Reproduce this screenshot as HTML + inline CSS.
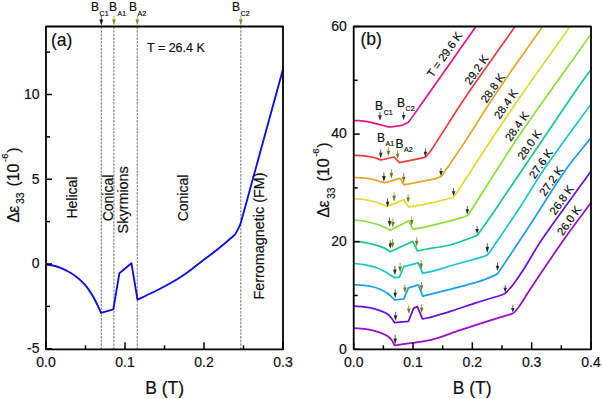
<!DOCTYPE html>
<html><head><meta charset="utf-8"><style>
html,body{margin:0;padding:0;background:#fff;}
svg{display:block;}
text{font-family:"Liberation Sans", sans-serif;stroke:#111;}
text,tspan{stroke-width:0.2px;}
</style></head><body>
<svg width="602" height="399" viewBox="0 0 602 399">
<rect width="602" height="399" fill="#fff"/>
<line x1="101.3" y1="26.5" x2="101.3" y2="349.3" stroke="#8a8a8a" stroke-width="1.15" stroke-dasharray="2.6,1"/>
<line x1="113.9" y1="26.5" x2="113.9" y2="349.3" stroke="#8a8a8a" stroke-width="1.15" stroke-dasharray="2.6,1"/>
<line x1="137.3" y1="26.5" x2="137.3" y2="349.3" stroke="#8a8a8a" stroke-width="1.15" stroke-dasharray="2.6,1"/>
<line x1="240.8" y1="26.5" x2="240.8" y2="349.3" stroke="#8a8a8a" stroke-width="1.15" stroke-dasharray="2.6,1"/>
<path d="M46.00,264.40 C48.33,264.77 50.71,264.97 53.00,265.50 C55.31,266.03 57.57,266.80 59.80,267.60 C61.57,268.23 63.31,268.98 65.00,269.80 C67.01,270.78 69.00,271.83 70.90,273.00 C72.67,274.09 74.36,275.32 76.00,276.60 C78.03,278.19 80.04,279.83 81.90,281.60 C83.54,283.16 85.11,284.82 86.50,286.60 C88.28,288.88 89.88,291.33 91.40,293.80 C93.04,296.46 94.59,299.20 96.00,302.00 C97.79,305.57 99.33,309.27 101.00,312.90 L113.30,309.30 L119.40,273.20 L131.40,263.20 L137.50,299.60 C140.77,298.07 144.05,296.56 147.30,295.00 C151.08,293.19 154.87,291.41 158.60,289.50 C162.37,287.57 166.12,285.59 169.80,283.50 C173.62,281.33 177.43,279.11 181.10,276.70 C184.83,274.25 188.41,271.56 192.00,268.90 C195.15,266.56 198.18,264.08 201.30,261.70 C205.05,258.84 208.88,256.09 212.60,253.20 C216.38,250.26 220.12,247.26 223.80,244.20 C227.05,241.50 230.20,238.69 233.41,235.93 L233.41,235.93 Q235.30,234.30 236.47,232.09 L238.52,228.19 L238.52,228.19 Q240.20,225.00 241.26,221.14 L283.00,69.30" fill="none" stroke="#0c0ce8" stroke-width="1.85" stroke-linejoin="round"/>
<rect x="46" y="26.5" width="237" height="322.8" fill="none" stroke="#000" stroke-width="1.8" stroke-linejoin="round"/>
<line x1="46.0" y1="349.3" x2="46.0" y2="342.3" stroke="#000" stroke-width="1.5"/>
<text x="46.0" y="367.4" font-size="14" text-anchor="middle" fill="#111" >0.0</text>
<line x1="125.00000000000001" y1="349.3" x2="125.00000000000001" y2="342.3" stroke="#000" stroke-width="1.5"/>
<text x="125.0" y="367.4" font-size="14" text-anchor="middle" fill="#111" >0.1</text>
<line x1="204.00000000000003" y1="349.3" x2="204.00000000000003" y2="342.3" stroke="#000" stroke-width="1.5"/>
<text x="204.0" y="367.4" font-size="14" text-anchor="middle" fill="#111" >0.2</text>
<line x1="283.00000000000006" y1="349.3" x2="283.00000000000006" y2="342.3" stroke="#000" stroke-width="1.5"/>
<text x="283.0" y="367.4" font-size="14" text-anchor="middle" fill="#111" >0.3</text>
<line x1="85.5" y1="349.3" x2="85.5" y2="345.3" stroke="#000" stroke-width="1.5"/>
<line x1="164.50000000000003" y1="349.3" x2="164.50000000000003" y2="345.3" stroke="#000" stroke-width="1.5"/>
<line x1="243.5" y1="349.3" x2="243.5" y2="345.3" stroke="#000" stroke-width="1.5"/>
<line x1="46" y1="348.75" x2="52" y2="348.75" stroke="#000" stroke-width="1.5"/>
<text x="39.5" y="353.05" font-size="14" text-anchor="end" fill="#111" >-5</text>
<line x1="46" y1="264.0" x2="52" y2="264.0" stroke="#000" stroke-width="1.5"/>
<text x="39.5" y="268.3" font-size="14" text-anchor="end" fill="#111" >0</text>
<line x1="46" y1="179.25" x2="52" y2="179.25" stroke="#000" stroke-width="1.5"/>
<text x="39.5" y="183.55" font-size="14" text-anchor="end" fill="#111" >5</text>
<line x1="46" y1="94.5" x2="52" y2="94.5" stroke="#000" stroke-width="1.5"/>
<text x="39.5" y="98.8" font-size="14" text-anchor="end" fill="#111" >10</text>
<line x1="46" y1="306.375" x2="50" y2="306.375" stroke="#000" stroke-width="1.5"/>
<line x1="46" y1="221.625" x2="50" y2="221.625" stroke="#000" stroke-width="1.5"/>
<line x1="46" y1="136.875" x2="50" y2="136.875" stroke="#000" stroke-width="1.5"/>
<line x1="46" y1="52.125" x2="50" y2="52.125" stroke="#000" stroke-width="1.5"/>
<text x="164.6" y="393.7" font-size="17.5" text-anchor="middle" fill="#111" >B (T)</text>
<text x="51" y="45.6" font-size="17.5" text-anchor="start" fill="#111" >(a)</text>
<text x="147" y="51.5" font-size="12.5" text-anchor="start" fill="#111" >T = 26.4 K</text>
<text transform="translate(77,197.6) rotate(-90)" font-size="14" text-anchor="middle" fill="#111">Helical</text>
<text transform="translate(113,198) rotate(-90)" font-size="14" text-anchor="middle" fill="#111">Conical</text>
<text transform="translate(127.5,199.8) rotate(-90)" font-size="14.4" text-anchor="middle" fill="#111">Skyrmions</text>
<text transform="translate(188,198) rotate(-90)" font-size="14" text-anchor="middle" fill="#111">Conical</text>
<text transform="translate(263.5,236) rotate(-90)" font-size="14.4" text-anchor="middle" fill="#111">Ferromagnetic (FM)</text>
<g transform="translate(18.6,222.3) rotate(-90)" fill="#111"><text x="-0.5" y="0" font-size="16">Δ</text><text x="9.66" y="0" font-size="16">ε</text><text x="18.2" y="5.6" font-size="10.4">33</text><text x="35.7" y="0" font-size="16">(10</text><text x="60.4" y="-10.6" font-size="9.5">-6</text><text x="69.5" y="0" font-size="16">)</text></g>
<text x="91" y="10.8" font-size="12" fill="#111">B<tspan font-size="7" dx="0.6" dy="5.2">C1</tspan></text>
<text x="109" y="10.8" font-size="12" fill="#111">B<tspan font-size="7" dx="0.6" dy="5.2">A1</tspan></text>
<text x="129" y="10.8" font-size="12" fill="#111">B<tspan font-size="7" dx="0.6" dy="5.2">A2</tspan></text>
<text x="232" y="10.8" font-size="12" fill="#111">B<tspan font-size="7" dx="0.6" dy="5.2">C2</tspan></text>
<line x1="101.3" y1="16" x2="101.3" y2="20.11" stroke="#111" stroke-width="0.9" opacity="0.8"/>
<path d="M99.5,19.61 L103.1,19.61 L101.3,25.5 Z" fill="#111"/>
<line x1="113.9" y1="16" x2="113.9" y2="20.11" stroke="#8c8c14" stroke-width="0.9" opacity="0.8"/>
<path d="M112.10000000000001,19.61 L115.7,19.61 L113.9,25.5 Z" fill="#8c8c14"/>
<line x1="137.3" y1="16" x2="137.3" y2="20.11" stroke="#8c8c14" stroke-width="0.9" opacity="0.8"/>
<path d="M135.5,19.61 L139.10000000000002,19.61 L137.3,25.5 Z" fill="#8c8c14"/>
<line x1="240.8" y1="16" x2="240.8" y2="20.11" stroke="#8c8c14" stroke-width="0.9" opacity="0.8"/>
<path d="M239.0,19.61 L242.60000000000002,19.61 L240.8,25.5 Z" fill="#8c8c14"/>
<defs><clipPath id="cb"><rect x="353.7" y="26.5" width="237.3" height="322.8"/></clipPath></defs>
<g clip-path="url(#cb)">
<path d="M354.00,120.50 C355.73,120.57 357.48,120.52 359.20,120.70 C362.81,121.08 366.43,121.52 370.00,122.20 C373.27,122.82 376.47,123.78 379.70,124.60 C382.51,125.31 385.28,126.17 388.10,126.80 C388.88,126.97 389.70,126.93 390.50,127.00 L400.63,125.53 L400.63,125.53 Q403.60,125.10 405.94,123.57 C406.89,122.95 408.11,122.59 408.80,121.70 C414.03,114.97 418.75,107.71 423.70,100.70 C441.19,75.91 458.70,51.15 476.10,26.30 C480.80,19.58 485.37,12.77 490.00,6.00" fill="none" stroke="#e6148c" stroke-width="1.75" stroke-linejoin="round"/>
<path d="M354.00,155.30 C357.33,155.50 360.69,155.53 364.00,155.90 C367.25,156.26 370.53,156.73 373.70,157.50 C376.16,158.10 378.50,159.17 380.90,160.00 L394.10,157.00 L399.40,162.60 L422.76,157.89 L422.76,157.89 Q425.70,157.30 427.51,154.91 C429.01,152.94 430.64,151.07 432.00,149.00 C442.84,132.50 453.02,115.54 464.10,99.20 C480.75,74.64 498.19,50.62 515.20,26.30 C520.16,19.22 525.07,12.10 530.00,5.00" fill="none" stroke="#f03c3c" stroke-width="1.75" stroke-linejoin="round"/>
<path d="M354.00,177.50 C356.53,177.60 359.08,177.58 361.60,177.80 C364.84,178.08 368.11,178.37 371.30,179.00 C374.15,179.57 376.90,180.59 379.70,181.40 C381.30,181.86 382.90,182.33 384.50,182.80 L400.10,178.30 L403.90,184.80 C413.27,183.00 422.66,181.31 432.00,179.40 C434.22,178.95 436.39,178.28 438.58,177.72 L438.58,177.72 Q441.00,177.10 442.40,175.03 C450.30,163.35 458.37,151.79 466.10,140.00 C474.94,126.51 483.21,112.65 492.10,99.20 C501.04,85.68 510.36,72.41 519.60,59.10 C527.23,48.11 535.14,37.33 542.70,26.30 C547.27,19.63 551.57,12.77 556.00,6.00" fill="none" stroke="#e4a82c" stroke-width="1.75" stroke-linejoin="round"/>
<path d="M354.00,198.60 C357.33,198.90 360.69,199.01 364.00,199.50 C367.26,199.98 370.53,200.62 373.70,201.50 C376.56,202.29 379.31,203.48 382.10,204.50 C383.77,205.11 385.43,205.77 387.10,206.40 L403.90,199.80 L408.40,206.80 C416.27,205.47 424.20,204.44 432.00,202.80 C438.59,201.41 445.05,199.42 451.58,197.73 L451.58,197.73 Q454.00,197.10 455.36,195.00 C467.27,176.67 479.02,158.22 491.10,140.00 C502.23,123.22 513.51,106.54 525.00,90.00 C539.84,68.64 555.10,47.55 570.10,26.30 C575.10,19.22 580.03,12.10 585.00,5.00" fill="none" stroke="#e4da30" stroke-width="1.75" stroke-linejoin="round"/>
<path d="M354.00,220.20 C357.33,220.47 360.72,220.44 364.00,221.00 C368.08,221.70 372.13,222.80 376.10,224.00 C378.96,224.87 381.76,226.00 384.50,227.20 C386.49,228.07 388.37,229.20 390.30,230.20 L408.80,220.80 L412.90,229.40 C419.27,228.03 425.66,226.78 432.00,225.30 C439.36,223.58 446.69,221.73 454.00,219.80 C457.79,218.80 461.53,217.60 465.30,216.50 L465.30,216.50 Q467.70,215.80 469.05,213.69 C484.76,189.13 500.08,164.30 516.20,140.00 C527.43,123.07 539.37,106.60 551.10,90.00 C564.24,71.40 577.63,52.98 590.80,34.40 C593.93,29.98 596.93,25.47 600.00,21.00" fill="none" stroke="#90e03c" stroke-width="1.75" stroke-linejoin="round"/>
<path d="M354.00,241.50 C357.33,241.77 360.71,241.76 364.00,242.30 C368.08,242.96 372.12,243.97 376.10,245.10 C378.96,245.91 381.83,246.84 384.50,248.10 C386.56,249.07 388.37,250.57 390.30,251.80 L412.90,241.30 L417.40,250.80 C422.27,249.93 427.13,249.07 432.00,248.20 C438.00,247.13 444.14,246.60 450.00,245.00 C458.38,242.71 466.49,239.34 474.74,236.51 L474.74,236.51 Q477.10,235.70 478.53,233.65 C484.06,225.77 489.69,217.96 495.10,210.00 C522.24,170.08 549.00,129.88 576.20,90.00 C580.90,83.11 585.92,76.46 590.80,69.70 C593.86,65.46 596.93,61.23 600.00,57.00" fill="none" stroke="#14cc8c" stroke-width="1.75" stroke-linejoin="round"/>
<path d="M354.00,263.40 C357.33,263.80 360.70,263.99 364.00,264.60 C368.07,265.36 372.20,266.15 376.10,267.50 C379.44,268.65 382.59,270.41 385.70,272.10 C387.79,273.24 389.65,274.79 391.70,276.00 C392.75,276.62 393.90,277.07 395.00,277.60 L399.40,277.10 L403.90,266.60 L418.20,262.80 L422.70,273.30 C425.80,272.67 428.95,272.22 432.00,271.40 C438.05,269.78 443.98,267.73 450.00,266.00 C459.98,263.13 470.02,260.46 480.00,257.60 C481.79,257.09 483.55,256.45 485.32,255.87 L485.32,255.87 Q487.70,255.10 489.10,253.03 C498.80,238.69 508.70,224.48 518.20,210.00 C527.04,196.53 534.98,182.47 544.10,169.20 C559.18,147.27 575.19,125.96 590.80,104.40 C593.82,100.23 596.93,96.13 600.00,92.00" fill="none" stroke="#18c8cc" stroke-width="1.75" stroke-linejoin="round"/>
<path d="M354.00,284.80 C357.33,285.00 360.69,285.03 364.00,285.40 C367.25,285.76 370.55,286.16 373.70,287.00 C376.58,287.76 379.40,288.93 382.10,290.20 C384.20,291.19 386.22,292.44 388.10,293.80 C389.62,294.90 390.90,296.33 392.30,297.60 C393.17,298.39 394.03,299.20 394.90,300.00 L403.90,298.80 L408.40,287.80 L418.20,284.80 L422.70,296.10 C425.80,295.33 428.90,294.56 432.00,293.80 C438.00,292.33 444.03,290.98 450.00,289.40 C460.03,286.75 470.11,284.19 480.00,281.10 C485.03,279.53 489.85,277.30 494.77,275.40 L494.77,275.40 Q497.10,274.50 498.48,272.42 C508.99,256.61 519.60,240.88 530.00,225.00 C542.14,206.47 553.41,187.33 566.10,169.20 C573.68,158.36 582.63,148.51 590.80,138.10 C593.93,134.11 596.93,130.03 600.00,126.00" fill="none" stroke="#1e9ef0" stroke-width="1.75" stroke-linejoin="round"/>
<path d="M354.00,306.20 C357.33,306.43 360.69,306.50 364.00,306.90 C367.25,307.30 370.52,307.81 373.70,308.60 C376.56,309.31 379.38,310.28 382.10,311.40 C384.18,312.25 386.34,313.16 388.10,314.50 C389.74,315.76 390.99,317.57 392.30,319.20 C393.19,320.30 393.90,321.53 394.70,322.70 L408.40,321.30 L413.70,308.10 L417.40,306.60 L422.40,318.90 C425.60,318.20 428.84,317.67 432.00,316.80 C438.91,314.90 445.77,312.77 452.60,310.60 C460.17,308.20 467.64,305.51 475.20,303.10 C484.24,300.22 493.34,297.52 502.41,294.73 L502.41,294.73 Q504.80,294.00 506.46,292.13 C508.57,289.75 510.88,287.53 512.80,285.00 C516.46,280.16 519.92,275.12 523.20,270.00 C529.69,259.86 535.28,249.12 542.10,239.20 C557.82,216.32 574.54,194.12 590.80,171.60 C593.84,167.38 596.93,163.20 600.00,159.00" fill="none" stroke="#6a10e6" stroke-width="1.75" stroke-linejoin="round"/>
<path d="M354.00,328.10 C357.33,328.37 360.69,328.46 364.00,328.90 C367.26,329.33 370.52,329.89 373.70,330.70 C376.55,331.43 379.37,332.40 382.10,333.50 C384.17,334.33 386.30,335.23 388.10,336.50 C389.60,337.56 390.92,339.01 392.00,340.50 C393.09,342.01 393.73,343.83 394.60,345.50 C407.07,343.53 419.75,342.46 432.00,339.60 C441.59,337.36 450.72,333.29 460.10,330.20 C470.12,326.89 480.14,323.57 490.20,320.40 C497.14,318.21 504.14,316.21 511.11,314.12 L511.11,314.12 Q513.50,313.40 515.06,311.45 C516.71,309.40 518.52,307.47 520.00,305.30 C523.50,300.15 526.54,294.68 530.00,289.50 C541.24,272.65 552.44,255.76 564.10,239.20 C572.71,226.96 581.86,215.10 590.80,203.10 C593.83,199.04 596.93,195.03 600.00,191.00" fill="none" stroke="#9a0ccc" stroke-width="1.75" stroke-linejoin="round"/>
</g>
<rect x="353.7" y="26.5" width="237.3" height="322.8" fill="none" stroke="#000" stroke-width="1.8" stroke-linejoin="round"/>
<line x1="353.7" y1="349.3" x2="353.7" y2="342.3" stroke="#000" stroke-width="1.5"/>
<text x="353.7" y="367.4" font-size="14" text-anchor="middle" fill="#111" >0.0</text>
<line x1="413.025" y1="349.3" x2="413.025" y2="342.3" stroke="#000" stroke-width="1.5"/>
<text x="413.02" y="367.4" font-size="14" text-anchor="middle" fill="#111" >0.1</text>
<line x1="472.35" y1="349.3" x2="472.35" y2="342.3" stroke="#000" stroke-width="1.5"/>
<text x="472.35" y="367.4" font-size="14" text-anchor="middle" fill="#111" >0.2</text>
<line x1="531.675" y1="349.3" x2="531.675" y2="342.3" stroke="#000" stroke-width="1.5"/>
<text x="531.67" y="367.4" font-size="14" text-anchor="middle" fill="#111" >0.3</text>
<line x1="591.0" y1="349.3" x2="591.0" y2="342.3" stroke="#000" stroke-width="1.5"/>
<text x="591.0" y="367.4" font-size="14" text-anchor="middle" fill="#111" >0.4</text>
<line x1="383.3625" y1="349.3" x2="383.3625" y2="345.3" stroke="#000" stroke-width="1.5"/>
<line x1="442.6875" y1="349.3" x2="442.6875" y2="345.3" stroke="#000" stroke-width="1.5"/>
<line x1="502.0125" y1="349.3" x2="502.0125" y2="345.3" stroke="#000" stroke-width="1.5"/>
<line x1="561.3375" y1="349.3" x2="561.3375" y2="345.3" stroke="#000" stroke-width="1.5"/>
<line x1="353.7" y1="349.3" x2="359.7" y2="349.3" stroke="#000" stroke-width="1.5"/>
<text x="346.8" y="353.6" font-size="14" text-anchor="end" fill="#111" >0</text>
<line x1="353.7" y1="241.70000000000002" x2="359.7" y2="241.70000000000002" stroke="#000" stroke-width="1.5"/>
<text x="346.8" y="246.0" font-size="14" text-anchor="end" fill="#111" >20</text>
<line x1="353.7" y1="134.10000000000002" x2="359.7" y2="134.10000000000002" stroke="#000" stroke-width="1.5"/>
<text x="346.8" y="138.4" font-size="14" text-anchor="end" fill="#111" >40</text>
<line x1="353.7" y1="26.5" x2="359.7" y2="26.5" stroke="#000" stroke-width="1.5"/>
<text x="346.8" y="30.8" font-size="14" text-anchor="end" fill="#111" >60</text>
<line x1="353.7" y1="295.5" x2="357.7" y2="295.5" stroke="#000" stroke-width="1.5"/>
<line x1="353.7" y1="187.9" x2="357.7" y2="187.9" stroke="#000" stroke-width="1.5"/>
<line x1="353.7" y1="80.30000000000001" x2="357.7" y2="80.30000000000001" stroke="#000" stroke-width="1.5"/>
<text x="472.2" y="393.7" font-size="17.5" text-anchor="middle" fill="#111" >B (T)</text>
<text x="360.5" y="45.2" font-size="17.5" text-anchor="start" fill="#111" >(b)</text>
<g transform="translate(329.3,217.2) rotate(-90)" fill="#111"><text x="-0.5" y="0" font-size="16">Δ</text><text x="9.66" y="0" font-size="16">ε</text><text x="18.2" y="5.6" font-size="10.4">33</text><text x="35.7" y="0" font-size="16">(10</text><text x="60.4" y="-10.6" font-size="9.5">-6</text><text x="69.5" y="0" font-size="16">)</text></g>
<text transform="translate(447.63,56.98) rotate(-55)" font-size="11.3" text-anchor="middle" fill="#111">T = 29.6 K</text>
<text transform="translate(479.73,72.08) rotate(-55)" font-size="11.3" text-anchor="middle" fill="#111">29.2 K</text>
<text transform="translate(495.83,90.48) rotate(-55)" font-size="11.3" text-anchor="middle" fill="#111">28.8 K</text>
<text transform="translate(509.03,106.28) rotate(-55)" font-size="11.3" text-anchor="middle" fill="#111">28.4 K</text>
<text transform="translate(520.13,128.68) rotate(-55)" font-size="11.3" text-anchor="middle" fill="#111">28.4 K</text>
<text transform="translate(532.63,147.08) rotate(-55)" font-size="11.3" text-anchor="middle" fill="#111">28.0 K</text>
<text transform="translate(544.03,166.08) rotate(-55)" font-size="11.3" text-anchor="middle" fill="#111">27.6 K</text>
<text transform="translate(554.43,183.48) rotate(-55)" font-size="11.3" text-anchor="middle" fill="#111">27.2 K</text>
<text transform="translate(564.73,202.28) rotate(-55)" font-size="11.3" text-anchor="middle" fill="#111">26.8 K</text>
<text transform="translate(572.23,222.98) rotate(-55)" font-size="11.3" text-anchor="middle" fill="#111">26.0 K</text>
<line x1="380" y1="112" x2="380" y2="115.806" stroke="#2a2a2a" stroke-width="0.9" opacity="0.8"/>
<path d="M378.2,115.306 L381.8,115.306 L380,120.7 Z" fill="#2a2a2a"/>
<line x1="403.6" y1="111.6" x2="403.6" y2="115.40599999999999" stroke="#2a2a2a" stroke-width="0.9" opacity="0.8"/>
<path d="M401.8,114.90599999999999 L405.40000000000003,114.90599999999999 L403.6,120.3 Z" fill="#2a2a2a"/>
<line x1="380.7" y1="149.3" x2="380.7" y2="153.334" stroke="#2a2a2a" stroke-width="0.9" opacity="0.8"/>
<path d="M378.9,152.834 L382.5,152.834 L380.7,158.6 Z" fill="#2a2a2a"/>
<line x1="388.4" y1="147.5" x2="388.4" y2="151.344" stroke="#7a7a12" stroke-width="0.9" opacity="0.8"/>
<path d="M386.59999999999997,150.844 L390.2,150.844 L388.4,156.3 Z" fill="#7a7a12"/>
<line x1="397.6" y1="150.3" x2="397.6" y2="154.144" stroke="#7a7a12" stroke-width="0.9" opacity="0.8"/>
<path d="M395.8,153.644 L399.40000000000003,153.644 L397.6,159.1 Z" fill="#7a7a12"/>
<line x1="425.4" y1="148.3" x2="425.4" y2="152.22" stroke="#2a2a2a" stroke-width="0.9" opacity="0.8"/>
<path d="M423.59999999999997,151.72 L427.2,151.72 L425.4,157.3 Z" fill="#2a2a2a"/>
<line x1="383.9" y1="172.3" x2="383.9" y2="176.524" stroke="#2a2a2a" stroke-width="0.9" opacity="0.8"/>
<path d="M382.09999999999997,176.024 L385.7,176.024 L383.9,182.1 Z" fill="#2a2a2a"/>
<line x1="391.4" y1="169.3" x2="391.4" y2="173.41000000000003" stroke="#7a7a12" stroke-width="0.9" opacity="0.8"/>
<path d="M389.59999999999997,172.91000000000003 L393.2,172.91000000000003 L391.4,178.8 Z" fill="#7a7a12"/>
<line x1="403.6" y1="172.8" x2="403.6" y2="177.138" stroke="#7a7a12" stroke-width="0.9" opacity="0.8"/>
<path d="M401.8,176.638 L405.40000000000003,176.638 L403.6,182.9 Z" fill="#7a7a12"/>
<line x1="441" y1="168" x2="441" y2="171.578" stroke="#2a2a2a" stroke-width="0.9" opacity="0.8"/>
<path d="M439.2,171.078 L442.8,171.078 L441,176.1 Z" fill="#2a2a2a"/>
<line x1="387.6" y1="198.3" x2="387.6" y2="202.22" stroke="#2a2a2a" stroke-width="0.9" opacity="0.8"/>
<path d="M385.8,201.72 L389.40000000000003,201.72 L387.6,207.3 Z" fill="#2a2a2a"/>
<line x1="394.1" y1="192.3" x2="394.1" y2="196.372" stroke="#7a7a12" stroke-width="0.9" opacity="0.8"/>
<path d="M392.3,195.872 L395.90000000000003,195.872 L394.1,201.7 Z" fill="#7a7a12"/>
<line x1="408.1" y1="194.2" x2="408.1" y2="197.968" stroke="#7a7a12" stroke-width="0.9" opacity="0.8"/>
<path d="M406.3,197.468 L409.90000000000003,197.468 L408.1,202.8 Z" fill="#7a7a12"/>
<line x1="453.6" y1="188.1" x2="453.6" y2="191.64" stroke="#2a2a2a" stroke-width="0.9" opacity="0.8"/>
<path d="M451.8,191.14 L455.40000000000003,191.14 L453.6,196.1 Z" fill="#2a2a2a"/>
<line x1="389.6" y1="217.4" x2="389.6" y2="221.472" stroke="#2a2a2a" stroke-width="0.9" opacity="0.8"/>
<path d="M387.8,220.972 L391.40000000000003,220.972 L389.6,226.8 Z" fill="#2a2a2a"/>
<line x1="392.9" y1="218.6" x2="392.9" y2="222.51999999999998" stroke="#7a7a12" stroke-width="0.9" opacity="0.8"/>
<path d="M391.09999999999997,222.01999999999998 L394.7,222.01999999999998 L392.9,227.6 Z" fill="#7a7a12"/>
<line x1="411.8" y1="216.3" x2="411.8" y2="220.524" stroke="#7a7a12" stroke-width="0.9" opacity="0.8"/>
<path d="M410.0,220.024 L413.6,220.024 L411.8,226.1 Z" fill="#7a7a12"/>
<line x1="467.3" y1="206.1" x2="467.3" y2="209.792" stroke="#2a2a2a" stroke-width="0.9" opacity="0.8"/>
<path d="M465.5,209.292 L469.1,209.292 L467.3,214.5 Z" fill="#2a2a2a"/>
<line x1="390.3" y1="240.3" x2="390.3" y2="244.03" stroke="#2a2a2a" stroke-width="0.9" opacity="0.8"/>
<path d="M388.5,243.53 L392.1,243.53 L390.3,248.8 Z" fill="#2a2a2a"/>
<line x1="392.6" y1="239.2" x2="392.6" y2="242.968" stroke="#7a7a12" stroke-width="0.9" opacity="0.8"/>
<path d="M390.8,242.468 L394.40000000000003,242.468 L392.6,247.8 Z" fill="#7a7a12"/>
<line x1="416.7" y1="237.3" x2="416.7" y2="241.372" stroke="#7a7a12" stroke-width="0.9" opacity="0.8"/>
<path d="M414.9,240.872 L418.5,240.872 L416.7,246.7 Z" fill="#7a7a12"/>
<line x1="477.1" y1="226" x2="477.1" y2="229.54" stroke="#2a2a2a" stroke-width="0.9" opacity="0.8"/>
<path d="M475.3,229.04 L478.90000000000003,229.04 L477.1,234 Z" fill="#2a2a2a"/>
<line x1="394.9" y1="265.8" x2="394.9" y2="269.91" stroke="#2a2a2a" stroke-width="0.9" opacity="0.8"/>
<path d="M393.09999999999997,269.41 L396.7,269.41 L394.9,275.3 Z" fill="#2a2a2a"/>
<line x1="400.1" y1="262.8" x2="400.1" y2="267.024" stroke="#7a7a12" stroke-width="0.9" opacity="0.8"/>
<path d="M398.3,266.524 L401.90000000000003,266.524 L400.1,272.6 Z" fill="#7a7a12"/>
<line x1="421.2" y1="259.8" x2="421.2" y2="263.91" stroke="#7a7a12" stroke-width="0.9" opacity="0.8"/>
<path d="M419.4,263.41 L423.0,263.41 L421.2,269.3 Z" fill="#7a7a12"/>
<line x1="487.3" y1="243.1" x2="487.3" y2="247.4" stroke="#2a2a2a" stroke-width="0.9" opacity="0.8"/>
<path d="M485.5,246.9 L489.1,246.9 L487.3,253.1 Z" fill="#2a2a2a"/>
<line x1="395.2" y1="289.3" x2="395.2" y2="293.22" stroke="#2a2a2a" stroke-width="0.9" opacity="0.8"/>
<path d="M393.4,292.72 L397.0,292.72 L395.2,298.3 Z" fill="#2a2a2a"/>
<line x1="404.9" y1="284.3" x2="404.9" y2="288.106" stroke="#7a7a12" stroke-width="0.9" opacity="0.8"/>
<path d="M403.09999999999997,287.606 L406.7,287.606 L404.9,293 Z" fill="#7a7a12"/>
<line x1="421.5" y1="281.8" x2="421.5" y2="285.72" stroke="#7a7a12" stroke-width="0.9" opacity="0.8"/>
<path d="M419.7,285.22 L423.3,285.22 L421.5,290.8 Z" fill="#7a7a12"/>
<line x1="497.5" y1="262.5" x2="497.5" y2="266.26800000000003" stroke="#2a2a2a" stroke-width="0.9" opacity="0.8"/>
<path d="M495.7,265.76800000000003 L499.3,265.76800000000003 L497.5,271.1 Z" fill="#2a2a2a"/>
<line x1="395.6" y1="311.8" x2="395.6" y2="315.758" stroke="#2a2a2a" stroke-width="0.9" opacity="0.8"/>
<path d="M393.8,315.258 L397.40000000000003,315.258 L395.6,320.9 Z" fill="#2a2a2a"/>
<line x1="408.8" y1="305.1" x2="408.8" y2="309.02000000000004" stroke="#7a7a12" stroke-width="0.9" opacity="0.8"/>
<path d="M407.0,308.52000000000004 L410.6,308.52000000000004 L408.8,314.1 Z" fill="#7a7a12"/>
<line x1="421.6" y1="304.3" x2="421.6" y2="308.22" stroke="#7a7a12" stroke-width="0.9" opacity="0.8"/>
<path d="M419.8,307.72 L423.40000000000003,307.72 L421.6,313.3 Z" fill="#7a7a12"/>
<line x1="505.2" y1="285" x2="505.2" y2="288.312" stroke="#2a2a2a" stroke-width="0.9" opacity="0.8"/>
<path d="M503.4,287.812 L507.0,287.812 L505.2,292.4 Z" fill="#2a2a2a"/>
<line x1="395.2" y1="334.8" x2="395.2" y2="339.024" stroke="#2a2a2a" stroke-width="0.9" opacity="0.8"/>
<path d="M393.4,338.524 L397.0,338.524 L395.2,344.6 Z" fill="#2a2a2a"/>
<line x1="512.8" y1="305.1" x2="512.8" y2="308.41200000000003" stroke="#2a2a2a" stroke-width="0.9" opacity="0.8"/>
<path d="M510.99999999999994,307.91200000000003 L514.5999999999999,307.91200000000003 L512.8,312.5 Z" fill="#2a2a2a"/>
<text x="375.1" y="110" font-size="12" fill="#111">B<tspan font-size="7" dx="0.6" dy="4.6">C1</tspan></text>
<text x="397" y="106.6" font-size="12" fill="#111">B<tspan font-size="7" dx="0.6" dy="4.8">C2</tspan></text>
<text x="377" y="141.9" font-size="12" fill="#111">B<tspan font-size="7" dx="0.6" dy="4.3">A1</tspan></text>
<text x="395.5" y="147.5" font-size="12" fill="#111">B<tspan font-size="7" dx="0.6" dy="4.6">A2</tspan></text>
</svg></body></html>
